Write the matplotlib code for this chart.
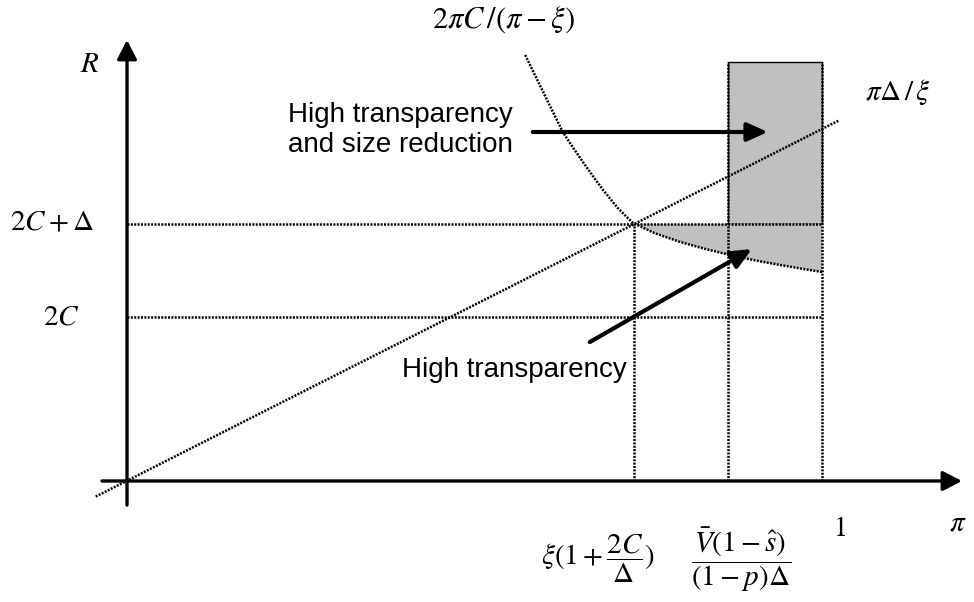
import numpy as np
import matplotlib
matplotlib.use('Agg')
import matplotlib.pyplot as plt
from matplotlib.patches import Rectangle

plt.rcParams['mathtext.fontset'] = 'stix'
plt.rcParams['font.family'] = ['Liberation Sans', 'DejaVu Sans']

# levels on the R axis
r_2c = 2.0
r_2c_delta = 3.134
r_top = 5.11

# marks on the pi axis
pi_cross = 0.7295      # xi(1 + 2C/Delta)
pi_vbar = 0.8647       # Vbar(1-s)/((1-p)Delta)
pi_one = 1.0

# ray pi*Delta/xi
ray_pi = [-0.045, 1.025]
ray_r = [-0.19, 4.40]

# curve 2 pi C / (pi - xi), read point by point
curve_pi = [0.573, 0.587, 0.601, 0.614, 0.627, 0.643, 0.659, 0.672, 0.685,
            0.706, 0.728, 0.760, 0.796, 0.832, 0.868, 0.904, 0.940, 0.970, 1.0]
curve_r = [5.195, 4.950, 4.707, 4.480, 4.256, 4.050, 3.854, 3.700, 3.549,
           3.330, 3.146, 3.020, 2.915, 2.830, 2.756, 2.690, 2.634, 2.590, 2.549]

# axes extents (start, arrow tip)
xaxis = (-0.036, 1.2014)
yaxis = (-0.293, 5.378)

# label arrows: (start, tip)
arrow_upper = ((0.584, 4.256), (0.922, 4.256))
arrow_lower = ((0.666, 1.695), (0.899, 2.829))

dot = dict(color='black', lw=1.8, linestyle=(0, (0.8, 0.55)))

fig = plt.figure(figsize=(9.74, 6.02), dpi=100)
ax = fig.add_axes([0, 0, 1, 1])
ax.set_xlim(-0.18273, 1.21871)
ax.set_ylim(-1.4756, 5.8659)
ax.axis('off')

# shaded regions
ax.add_patch(Rectangle((pi_vbar, r_2c_delta), pi_one - pi_vbar, r_top - r_2c_delta,
                       facecolor='#c0c0c0', edgecolor='black', lw=1.0, zorder=1))
cp = np.array(curve_pi)
cr = np.array(curve_r)
m = cp >= pi_cross - 0.002
ax.fill_between(cp[m], cr[m], r_2c_delta, facecolor='#c0c0c0', edgecolor='none', zorder=1)

# guide lines
ax.plot([0, pi_one], [r_2c_delta, r_2c_delta], **dot, zorder=2)
ax.plot([0, pi_one], [r_2c, r_2c], **dot, zorder=2)
ax.plot([pi_cross, pi_cross], [0, r_2c_delta], **dot, zorder=2)
ax.plot([pi_vbar, pi_vbar], [0, r_top], **dot, zorder=2)
ax.plot([pi_one, pi_one], [0, r_top], **dot, zorder=2)
ax.plot(ray_pi, ray_r, **dot, zorder=2)
ax.plot(curve_pi, curve_r, **dot, zorder=2)

# axes with arrow heads
axis_arrow = dict(arrowstyle='-|>,head_length=0.58,head_width=0.3', color='black',
                  lw=2.4, mutation_scale=20, shrinkA=0, shrinkB=0)
ax.annotate('', xy=(xaxis[1], 0), xytext=(xaxis[0], 0), arrowprops=axis_arrow, zorder=3)
ax.annotate('', xy=(0, yaxis[1]), xytext=(0, yaxis[0]), arrowprops=axis_arrow, zorder=3)

label_arrow = dict(arrowstyle='-|>,head_length=0.62,head_width=0.28', color='black',
                   lw=3.0, mutation_scale=20, shrinkA=0, shrinkB=0)
ax.annotate('', xy=arrow_upper[1], xytext=arrow_upper[0], arrowprops=label_arrow, zorder=4)
ax.annotate('', xy=arrow_lower[1], xytext=arrow_lower[0], arrowprops=label_arrow, zorder=4)

# region labels
ax.text(0.555, 4.378, 'High transparency', fontsize=20, ha='right', va='baseline')
ax.text(0.555, 4.012, 'and size reduction', fontsize=20, ha='right', va='baseline')
ax.text(0.396, 1.268, 'High transparency', fontsize=20, ha='left', va='baseline')

# math labels
mfs = 21
ax.text(-0.0532, 5.085, r'$R$', fontsize=mfs, ha='center', va='center')
ax.text(-0.108, 3.159, r'$2C+\Delta$', fontsize=mfs, ha='center', va='center')
ax.text(-0.095, 2.012, r'$2C$', fontsize=mfs, ha='center', va='center')
ax.text(0.541, 5.622, r'$2\pi C\,/(\pi-\xi)$', fontsize=mfs + 1, ha='center', va='center')
ax.text(1.109, 4.744, r'$\pi\Delta\,/\,\xi$', fontsize=mfs, ha='center', va='center')
ax.text(1.196, -0.50, r'$\pi$', fontsize=mfs, ha='center', va='center')
ax.text(1.0245, -0.585, r'$1$', fontsize=mfs - 1, ha='center', va='center')
ax.text(0.678, -0.951, r'$\xi(1+\dfrac{2C}{\Delta})$', fontsize=mfs, ha='center', va='center')
ax.text(0.883, -0.963, r'$\dfrac{\bar{V}(1-\hat{s})}{(1-p)\Delta}$', fontsize=mfs,
        ha='center', va='center')

fig.savefig('out.png', dpi=100)
